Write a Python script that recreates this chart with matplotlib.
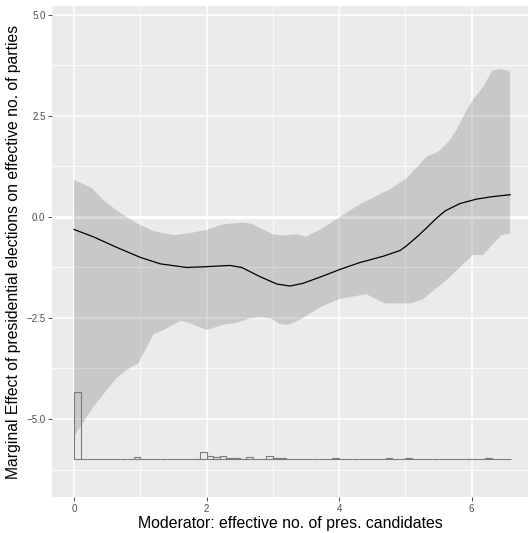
import numpy as np
import matplotlib
matplotlib.use("Agg")
import matplotlib.pyplot as plt
from matplotlib.ticker import FixedLocator

plt.rcParams['font.family'] = ['Liberation Sans', 'DejaVu Sans']

# marginal effect line
line_x = [0, 0.29, 0.64, 1.0, 1.3, 1.7, 2.0, 2.35, 2.53, 2.81, 3.06, 3.26, 3.46, 3.76,
          4.01, 4.31, 4.67, 4.92, 5.02, 5.17, 5.32, 5.47, 5.6, 5.82, 6.07, 6.3, 6.58]
line_y = [-0.31, -0.49, -0.75, -1.0, -1.16, -1.25, -1.23, -1.2, -1.25, -1.48, -1.66, -1.71,
          -1.64, -1.46, -1.30, -1.13, -0.97, -0.83, -0.71, -0.50, -0.27, -0.03, 0.15, 0.33,
          0.44, 0.50, 0.55]

# confidence band
upper_x = [0, 0.27, 0.44, 0.67, 0.95, 1.2, 1.5, 1.75, 2.0, 2.25, 2.55, 2.68, 3.0, 3.15, 3.36,
           3.5, 3.76, 4.01, 4.31, 4.77, 5.02, 5.32, 5.5, 5.65, 5.77, 5.9, 6.02, 6.17, 6.31,
           6.44, 6.58]
upper_y = [0.92, 0.71, 0.42, 0.13, -0.16, -0.35, -0.45, -0.40, -0.32, -0.18, -0.14, -0.17,
           -0.43, -0.46, -0.43, -0.49, -0.27, 0.0, 0.31, 0.69, 0.96, 1.49, 1.62, 1.86, 2.15,
           2.57, 2.90, 3.21, 3.62, 3.66, 3.60]
lower_x = [0, 0.29, 0.64, 0.79, 0.97, 1.2, 1.35, 1.61, 1.72, 2.0, 2.28, 2.43, 2.65, 2.83,
           2.98, 3.11, 3.23, 3.41, 3.73, 4.01, 4.41, 4.69, 5.09, 5.27, 5.62, 6.02, 6.17,
           6.45, 6.58]
lower_y = [-5.44, -4.70, -3.99, -3.79, -3.62, -2.90, -2.80, -2.57, -2.61, -2.80, -2.65, -2.63,
           -2.51, -2.48, -2.52, -2.65, -2.67, -2.54, -2.22, -2.03, -1.91, -2.14, -2.14, -2.03,
           -1.56, -0.94, -0.94, -0.45, -0.42]

# histogram of the moderator (bins of 0.1 from 0 to 6.6), heights in y units
hist_base = -6.0
hist_width = 0.1
hist_heights = [1.68, 0, 0, 0, 0, 0, 0, 0, 0, 0.06,
                0.02, 0, 0.01, 0, 0, 0, 0.01, 0.01, 0.01, 0.18,
                0.085, 0.06, 0.085, 0.03, 0.03, 0.01, 0.06, 0.02, 0.01, 0.085,
                0.03, 0.03, 0, 0, 0, 0.01, 0.01, 0, 0, 0.03,
                0, 0.01, 0.01, 0, 0, 0, 0.02, 0.04, 0.01, 0,
                0.03, 0.015, 0.015, 0, 0, 0, 0, 0.01, 0, 0,
                0.01, 0.01, 0.03, 0.01, 0.01, 0.005]
hist_left = np.arange(len(hist_heights)) * hist_width

fig = plt.figure(figsize=(5.32, 5.33), dpi=100)
ax = fig.add_axes([52 / 532, 1 - 497 / 533, 476 / 532, 491 / 533])
ax.set_facecolor('#EBEBEB')

ax.xaxis.set_major_locator(FixedLocator([0, 2, 4, 6]))
ax.xaxis.set_minor_locator(FixedLocator([1, 3, 5]))
ax.yaxis.set_major_locator(FixedLocator([-5, -2.5, 0, 2.5, 5]))
ax.yaxis.set_minor_locator(FixedLocator([-6.25, -3.75, -1.25, 1.25, 3.75]))
ax.set_xticklabels(['0', '2', '4', '6'])
ax.set_yticklabels(['\u22125.0', '\u22122.5', '0.0', '2.5', '5.0'])
ax.grid(which='major', color='white', linewidth=1.1)
ax.grid(which='minor', color='white', linewidth=0.55)
ax.set_axisbelow(True)
for s in ax.spines.values():
    s.set_visible(False)
ax.tick_params(which='major', length=2.7, width=0.6, color='#333333',
               labelsize=7, labelcolor='#4D4D4D', pad=2)
ax.tick_params(which='minor', length=0)

ax.axhline(0, color='white', linewidth=2.4, zorder=1)
ax.fill(upper_x + lower_x[::-1], upper_y + lower_y[::-1],
        color='black', alpha=0.15, linewidth=0, zorder=2)
ax.plot(line_x, line_y, color='black', linewidth=0.9, zorder=3)
ax.bar(hist_left, hist_heights, width=hist_width, bottom=hist_base, align='edge',
       facecolor='none', edgecolor='#7A7A7A', linewidth=0.8, zorder=4)

ax.set_xlim(-0.332, 6.85)
ax.set_ylim(-6.93, 5.22)
ax.set_xlabel('Moderator: effective no. of pres. candidates', fontsize=11.4, labelpad=2)
ax.set_ylabel('Marginal Effect of presidential elections on effective no. of parties',
              fontsize=11.3, labelpad=4)

fig.savefig('out.png', dpi=100)
